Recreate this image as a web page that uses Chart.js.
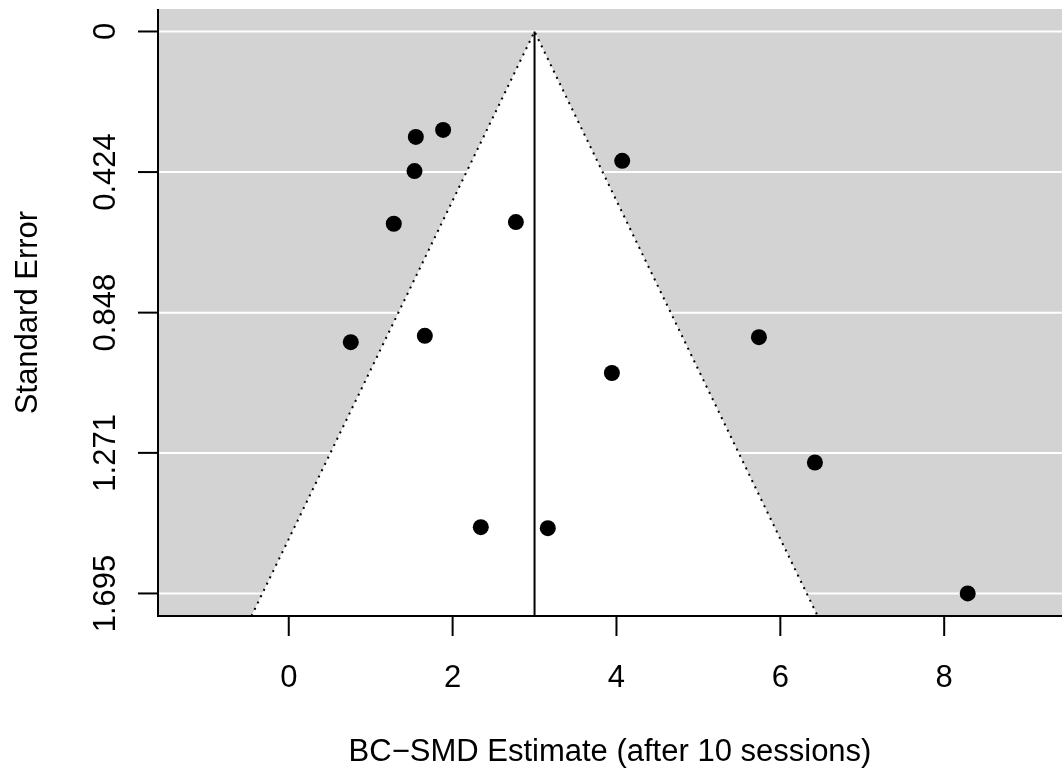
<!DOCTYPE html>
<html>
<head>
<meta charset="utf-8">
<script src="https://cdn.jsdelivr.net/npm/chart.js@4"></script>
<style>
  html, body { margin: 0; padding: 0; background: #fff; overflow: hidden; }
  canvas { display: block; }
</style>
</head>
<body>
<canvas id="myChart" width="1062" height="770"></canvas>
<script>
// study estimates and their standard errors
const estimates = [1.884, 1.551, 1.535, 4.070, 1.282, 2.772, 0.757, 1.661, 5.739, 3.944, 6.422, 2.344, 3.162, 8.287];
const stdErrors = [0.297, 0.318, 0.421, 0.390, 0.580, 0.575, 0.937, 0.918, 0.922, 1.030, 1.300, 1.495, 1.498, 1.695];
const centerEstimate = 3.0;
const xTicks = [0, 2, 4, 6, 8];
const yTicks = [0, 0.424, 0.848, 1.271, 1.695];
const yTickLabels = ["0", "0.424", "0.848", "1.271", "1.695"];
const xRange = [-1.596, 9.438];
const yRange = [-0.0678, 1.763];

const FONT = '31px "Liberation Sans", Arial, sans-serif';

const points = estimates.map((x, i) => ({ x: x, y: stdErrors[i] }));
const yBottom = yRange[1];
const funnel = [
  { x: centerEstimate - 1.96 * yBottom, y: yBottom },
  { x: centerEstimate, y: 0 },
  { x: centerEstimate + 1.96 * yBottom, y: yBottom }
];
const refLine = [{ x: centerEstimate, y: 0 }, { x: centerEstimate, y: yBottom }];

// gray panel + white grid lines behind everything
const panelPlugin = {
  id: 'panel',
  beforeDatasetsDraw(chart) {
    const { ctx, chartArea: a, scales } = chart;
    ctx.save();
    ctx.fillStyle = '#d3d3d3';
    ctx.fillRect(a.left, a.top, a.right - a.left, a.bottom - a.top);
    ctx.strokeStyle = '#ffffff';
    ctx.lineWidth = 2;
    yTicks.forEach(t => {
      const y = scales.y.getPixelForValue(t);
      ctx.beginPath();
      ctx.moveTo(a.left, y);
      ctx.lineTo(a.right, y);
      ctx.stroke();
    });
    ctx.restore();
  }
};

// R-style axes: L box, outward ticks, rotated y labels
const axesPlugin = {
  id: 'rAxes',
  afterDraw(chart) {
    const { ctx, chartArea: a, scales } = chart;
    ctx.save();
    ctx.strokeStyle = '#000';
    ctx.fillStyle = '#000';
    ctx.lineWidth = 2;
    ctx.beginPath();
    ctx.moveTo(a.left, a.top);
    ctx.lineTo(a.left, a.bottom);
    ctx.lineTo(a.right, a.bottom);
    ctx.stroke();

    ctx.font = FONT;
    ctx.textAlign = 'center';
    ctx.textBaseline = 'alphabetic';
    xTicks.forEach(t => {
      const x = scales.x.getPixelForValue(t);
      ctx.beginPath();
      ctx.moveTo(x, a.bottom);
      ctx.lineTo(x, a.bottom + 20);
      ctx.stroke();
      ctx.fillText(String(t), x, a.bottom + 71);
    });
    ctx.fillText('BC\u2212SMD Estimate (after 10 sessions)', (a.left + a.right) / 2, a.bottom + 145);

    yTicks.forEach((t, i) => {
      const y = scales.y.getPixelForValue(t);
      ctx.beginPath();
      ctx.moveTo(a.left, y);
      ctx.lineTo(a.left - 20, y);
      ctx.stroke();
      ctx.save();
      ctx.translate(a.left - 43, y);
      ctx.rotate(-Math.PI / 2);
      ctx.fillText(yTickLabels[i], 0, 0);
      ctx.restore();
    });
    ctx.save();
    ctx.translate(37, (a.top + a.bottom) / 2);
    ctx.rotate(-Math.PI / 2);
    ctx.fillText('Standard Error', 0, 0);
    ctx.restore();
    ctx.restore();
  }
};

new Chart(document.getElementById('myChart'), {
  type: 'scatter',
  data: {
    datasets: [
      {
        label: 'studies',
        data: points,
        order: 0,
        pointRadius: 8,
        pointBackgroundColor: '#000',
        pointBorderWidth: 0,
        showLine: false
      },
      {
        label: 'estimate',
        data: refLine,
        order: 1,
        showLine: true,
        borderColor: '#000',
        borderWidth: 2,
        pointRadius: 0
      },
      {
        label: 'funnel',
        data: funnel,
        order: 2,
        showLine: true,
        borderColor: '#000',
        borderWidth: 2,
        borderDash: [2, 5],
        borderCapStyle: 'butt',
        pointRadius: 0,
        tension: 0,
        fill: { value: yBottom },
        backgroundColor: '#ffffff'
      }
    ]
  },
  options: {
    responsive: false,
    animation: false,
    layout: { autoPadding: false, padding: { left: 158, top: 9, right: 0, bottom: 154 } },
    plugins: {
      legend: { display: false },
      tooltip: { enabled: false },
      filler: { drawTime: 'beforeDatasetDraw' }
    },
    scales: {
      x: { type: 'linear', display: false, min: xRange[0], max: xRange[1] },
      y: { type: 'linear', display: false, reverse: true, min: yRange[0], max: yRange[1] }
    }
  },
  plugins: [panelPlugin, axesPlugin]
});
</script>
</body>
</html>
